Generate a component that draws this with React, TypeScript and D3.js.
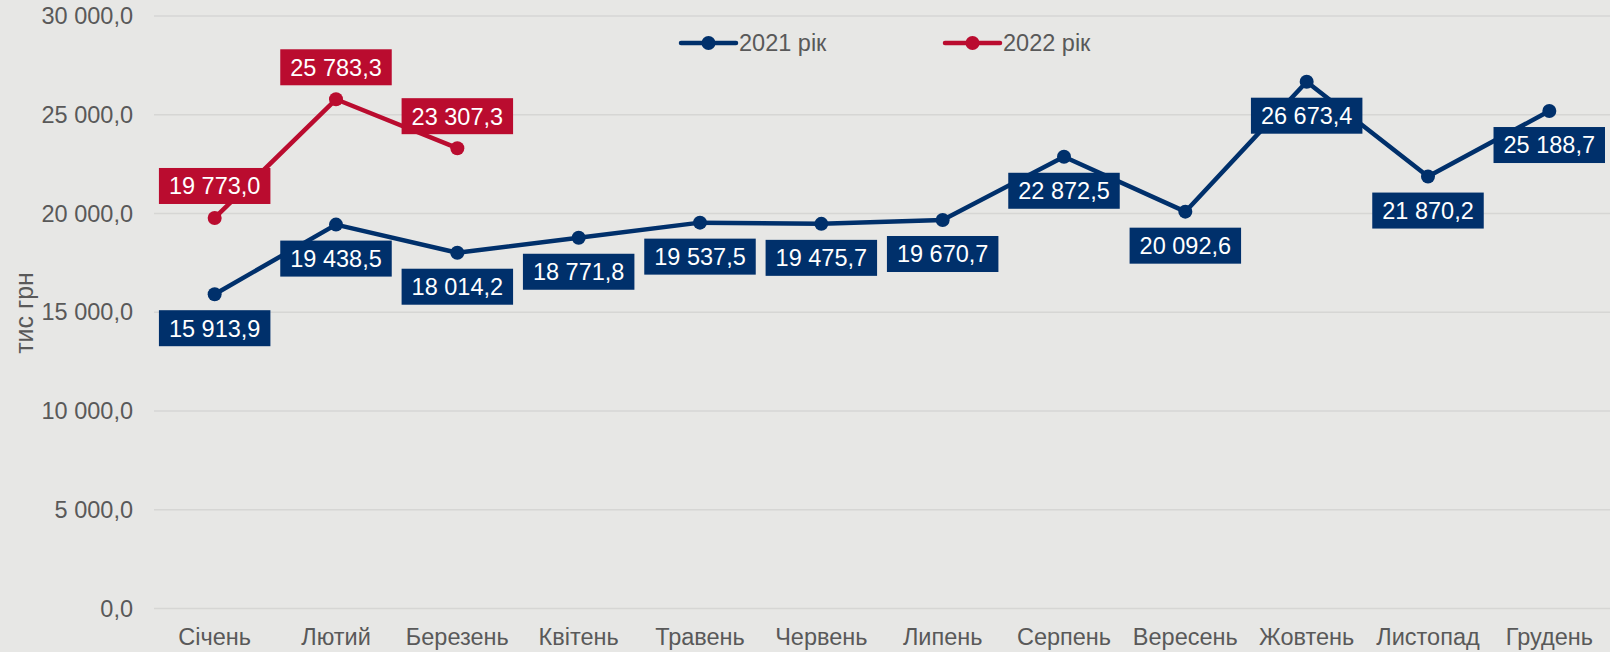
import React, { useEffect, useRef } from "react";
import * as d3 from "d3";

const months = ["Січень", "Лютий", "Березень", "Квітень", "Травень", "Червень", "Липень", "Серпень", "Вересень", "Жовтень", "Листопад", "Грудень"];
const values2021 = [15913.9, 19438.5, 18014.2, 18771.8, 19537.5, 19475.7, 19670.7, 22872.5, 20092.6, 26673.4, 21870.2, 25188.7];
const values2022 = [19773.0, 25783.3, 23307.3];
const yTicks = [0, 5000, 10000, 15000, 20000, 25000, 30000];
const seriesNames = ["2021 рік", "2022 рік"];

const W = 1610;
const H = 652;
const BLUE = "#00306B";
const RED = "#BA0C2F";
const BG = "#E7E7E5";
const GRID = "#D6D6D4";
const TEXT = "#595959";
const FONT = "'Liberation Sans', Arial, sans-serif";
const FS = 23.5;

const fmt = (v: number) => {
  const s = v.toFixed(1).replace(".", ",");
  const [i, d] = s.split(",");
  const withSp = i.replace(/\B(?=(\d{3})+(?!\d))/g, " ");
  return withSp + "," + d;
};

export default function App() {
  const ref = useRef<SVGSVGElement>(null);
  useEffect(() => {
    const svg = d3.select(ref.current);
    svg.selectAll("*").remove();
    const left = 154, right = 1610, top = 16, bottom = 608.5;
    const x = d3.scaleBand<string>().domain(months).range([left, right]);
    const y = d3.scaleLinear().domain([0, 30000]).range([bottom, top]);
    const cx = (m: string) => (x(m) as number) + x.bandwidth() / 2;

    svg.append("rect").attr("width", W).attr("height", H).attr("fill", BG);

    // grid
    svg.append("g").selectAll("line").data(yTicks).join("line")
      .attr("x1", left).attr("x2", right)
      .attr("y1", (d) => y(d)).attr("y2", (d) => y(d))
      .attr("stroke", GRID).attr("stroke-width", 1.5);

    // y tick labels
    svg.append("g").selectAll("text").data(yTicks).join("text")
      .attr("x", 133).attr("y", (d) => y(d)).attr("dy", "0.35em")
      .attr("text-anchor", "end").attr("font-family", FONT).attr("font-size", FS)
      .attr("fill", TEXT).text((d) => fmt(d));

    // x labels
    svg.append("g").selectAll("text").data(months).join("text")
      .attr("x", (d) => cx(d)).attr("y", 645)
      .attr("text-anchor", "middle").attr("font-family", FONT).attr("font-size", FS)
      .attr("fill", TEXT).text((d) => d);

    // y title
    svg.append("text")
      .attr("transform", `translate(33,313) rotate(-90)`)
      .attr("text-anchor", "middle").attr("font-family", FONT).attr("font-size", 25)
      .attr("fill", TEXT).text("тис грн");

    const line = d3.line<number>().x((_, i) => cx(months[i])).y((d) => y(d));

    const drawSeries = (vals: number[], color: string) => {
      svg.append("path").datum(vals).attr("d", line).attr("fill", "none")
        .attr("stroke", color).attr("stroke-width", 4.5).attr("stroke-linejoin", "round").attr("stroke-linecap", "round");
      svg.append("g").selectAll("circle").data(vals).join("circle")
        .attr("cx", (_, i) => cx(months[i])).attr("cy", (d) => y(d)).attr("r", 7).attr("fill", color);
    };
    drawSeries(values2021, BLUE);
    drawSeries(values2022, RED);

    const drawLabels = (vals: number[], color: string, offset: number) => {
      vals.forEach((v, i) => {
        const g = svg.append("g");
        const t = g.append("text").attr("font-family", FONT).attr("font-size", FS)
          .attr("fill", "#fff").attr("text-anchor", "middle").text(fmt(v));
        const bb = (t.node() as SVGTextElement).getBBox();
        const bw = bb.width + 20;
        const bh = 36;
        let bx = cx(months[i]);
        if (bx + bw / 2 > W - 5) bx = W - 5 - bw / 2;
        const by = y(v) + offset;
        t.attr("x", bx).attr("y", by).attr("dy", "0.36em");
        g.insert("rect", "text").attr("x", bx - bw / 2).attr("y", by - bh / 2)
          .attr("width", bw).attr("height", bh).attr("fill", color);
      });
    };
    drawLabels(values2021, BLUE, 34);
    drawLabels(values2022, RED, -32);

    // legend
    const legend = [
      { name: seriesNames[0], color: BLUE, x0: 681 },
      { name: seriesNames[1], color: RED, x0: 945 },
    ];
    legend.forEach((l) => {
      const ly = 43;
      svg.append("line").attr("x1", l.x0).attr("x2", l.x0 + 55).attr("y1", ly).attr("y2", ly)
        .attr("stroke", l.color).attr("stroke-width", 4.5).attr("stroke-linecap", "round");
      svg.append("circle").attr("cx", l.x0 + 27.5).attr("cy", ly).attr("r", 7).attr("fill", l.color);
      svg.append("text").attr("x", l.x0 + 58).attr("y", ly).attr("dy", "0.35em")
        .attr("font-family", FONT).attr("font-size", FS).attr("fill", TEXT).text(l.name);
    });
  }, []);
  return (
    <svg ref={ref} width={W} height={H} style={{ position: "fixed", left: 0, top: 0, display: "block" }} />
  );
}
